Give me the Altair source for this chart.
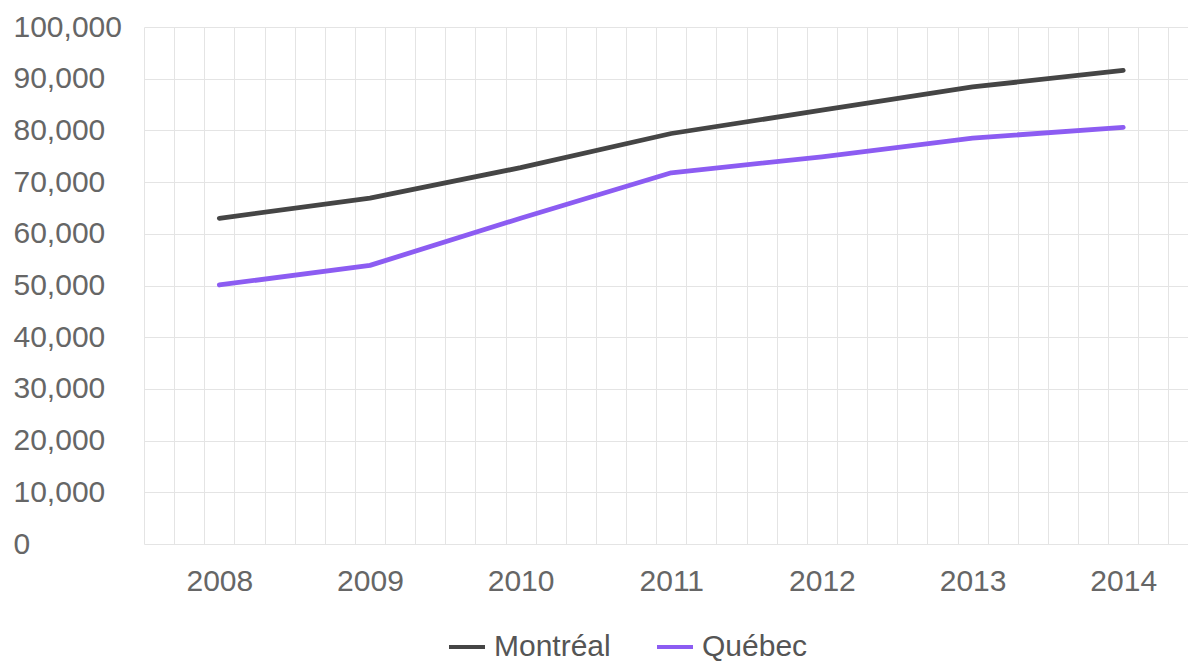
import altair as alt
import pandas as pd

years = [2008, 2009, 2010, 2011, 2012, 2013, 2014]
montreal = [63000, 66900, 72800, 79400, 83900, 88400, 91600]
quebec = [50100, 53900, 63000, 71800, 74900, 78500, 80600]
series_names = ["Montréal", "Québec"]
series_colors = ["#454545", "#8c5cf2"]
y_ticks = [0, 10000, 20000, 30000, 40000, 50000, 60000, 70000, 80000, 90000, 100000]

rows = []
for name, vals in zip(series_names, [montreal, quebec]):
    for yr, v in zip(years, vals):
        rows.append({"year": yr, "value": v, "city": name})
df = pd.DataFrame(rows)

x_min, x_max = 2007.5, 2014.43
grid_vals = [round(2007.5 + 0.2 * k, 1) for k in range(35)]
x_vals = sorted(set(grid_vals + [float(y) for y in years]))

FONT = "Liberation Sans"

chart = alt.Chart(df).mark_line(strokeWidth=4.8, interpolate="linear", strokeJoin="round", strokeCap="round").encode(
    x=alt.X(
        "year:Q",
        scale=alt.Scale(domain=[x_min, x_max], nice=False, zero=False),
        axis=alt.Axis(
            title=None,
            values=x_vals,
            labelExpr="datum.value % 1 === 0 ? format(datum.value, 'd') : ''",
            labelOverlap=False,
            labelFlush=False,
            labelPadding=22,
            labelFontSize=30,
            labelColor="#666666",
            labelFont=FONT,
            ticks=False,
            tickSize=0,
            domain=False,
            grid=True,
            gridColor="#e4e4e4",
            gridWidth=1,
            gridOpacity={"condition": {"test": "datum.value % 1 === 0", "value": 0}, "value": 1},
        ),
    ),
    y=alt.Y(
        "value:Q",
        scale=alt.Scale(domain=[0, 100000], nice=False),
        axis=alt.Axis(
            title=None,
            values=y_ticks,
            format=",d",
            labelAlign="left",
            labelPadding=131,
            labelFontSize=30,
            labelColor="#666666",
            labelFont=FONT,
            ticks=False,
            tickSize=0,
            domain=False,
            grid=True,
            gridColor="#e4e4e4",
            gridWidth=1,
        ),
    ),
    color=alt.Color(
        "city:N",
        scale=alt.Scale(domain=series_names, range=series_colors),
        legend=alt.Legend(
            title=None,
            orient="none",
            legendX=303,
            legendY=600,
            direction="horizontal",
            symbolType="stroke",
            symbolSize=1296,
            symbolStrokeWidth=4,
            labelFontSize=30,
            labelFont=FONT,
            labelColor="#555555",
            labelOffset=7,
            columnPadding=38,
            padding=0,
        ),
    ),
).properties(
    width=1044,
    height=517,
    autosize=alt.AutoSizeParams(type="none"),
    padding={"left": 144, "top": 27, "right": 0, "bottom": 119},
    background="white",
).configure_view(stroke=None)

chart.save("out.html", embed_options={"renderer": "svg", "actions": False})
